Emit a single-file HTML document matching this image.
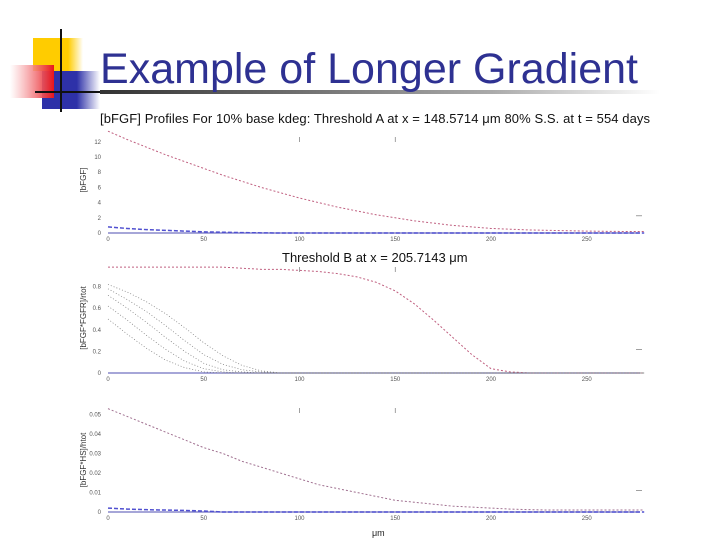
<!DOCTYPE html>
<html><head><meta charset="utf-8"><style>
html,body{margin:0;padding:0;background:#fff;}
svg{display:block;font-family:"Liberation Sans",sans-serif;}
</style></head><body>
<svg width="720" height="540" viewBox="0 0 720 540">
<defs>
<linearGradient id="rg" x1="0" x2="1"><stop offset="0" stop-color="#fff" stop-opacity="0.7"/><stop offset="1" stop-color="#e8141b"/></linearGradient>
<linearGradient id="bg" x1="0" x2="1"><stop offset="0" stop-color="#2e31a8"/><stop offset="0.6" stop-color="#2e31a8"/><stop offset="1" stop-color="#fff"/></linearGradient>
<linearGradient id="yg" x1="0" x2="1"><stop offset="0" stop-color="#ffcc00"/><stop offset="0.7" stop-color="#ffcc00"/><stop offset="1" stop-color="#fff"/></linearGradient>
<linearGradient id="lg" x1="0" x2="1"><stop offset="0" stop-color="#333"/><stop offset="0.7" stop-color="#aaa"/><stop offset="1" stop-color="#fff"/></linearGradient>
</defs>
<g>
<rect x="33" y="38" width="50" height="33" fill="url(#yg)"/>
<rect x="42" y="71" width="58" height="38" fill="url(#bg)"/>
<rect x="10" y="65" width="44" height="33" fill="url(#rg)"/>
<line x1="61" y1="29" x2="61" y2="112" stroke="#111" stroke-width="2"/>
<line x1="35" y1="92" x2="100" y2="92" stroke="#111" stroke-width="2"/>
<rect x="100" y="90" width="560" height="4" fill="url(#lg)"/>
</g>
<text x="100" y="83" font-size="43" textLength="538" fill="#2e3192">Example of Longer Gradient</text>
<text x="100" y="123" font-size="13" textLength="550" fill="#111">[bFGF] Profiles For 10% base kdeg: Threshold A at x = 148.5714 μm  80% S.S. at t = 554 days</text>
<text x="282" y="262" font-size="13" fill="#111">Threshold B at x = 205.7143 μm</text>
<text x="372" y="536" font-size="9" fill="#222">μm</text>
<g id="charts"></g>
</svg>
<script>
const xs = [0,10,20,30,40,50,60,70,80,90,100,110,120,130,140,150,160,170,180,190,200,210,220,230,240,250,260,270,280];
const xTicks = [0,50,100,150,200,250];
const p1Red = [13.4,12.3,11.3,10.3,9.4,8.5,7.6,6.8,6.0,5.3,4.6,4.0,3.4,2.9,2.4,2.0,1.6,1.3,1.0,0.8,0.6,0.5,0.4,0.35,0.3,0.25,0.22,0.2,0.2];
const p1Blue = [0.8,0.6,0.45,0.35,0.25,0.15,0.1,0.05,0.02,0,0,0,0,0,0,0,0,0,0,0,0,0,0,0,0,0,0,0,0];
const p1Ticks = [0,2,4,6,8,10,12];
const p2Red = [0.98,0.98,0.98,0.98,0.98,0.98,0.98,0.97,0.96,0.96,0.95,0.94,0.92,0.89,0.84,0.76,0.64,0.49,0.33,0.17,0.04,0.01,0,0,0,0,0,0,0];
const p2Gray1 = [0.82,0.75,0.66,0.55,0.42,0.28,0.16,0.07,0.02,0,0,0,0,0,0,0,0,0,0,0,0,0,0,0,0,0,0,0,0];
const p2Gray2 = [0.78,0.68,0.57,0.44,0.30,0.17,0.08,0.03,0.01,0,0,0,0,0,0,0,0,0,0,0,0,0,0,0,0,0,0,0,0];
const p2Gray3 = [0.72,0.60,0.47,0.33,0.20,0.09,0.03,0.01,0,0,0,0,0,0,0,0,0,0,0,0,0,0,0,0,0,0,0,0,0];
const p2Gray4 = [0.62,0.49,0.35,0.22,0.11,0.04,0.01,0,0,0,0,0,0,0,0,0,0,0,0,0,0,0,0,0,0,0,0,0,0];
const p2Gray5 = [0.50,0.36,0.23,0.12,0.05,0.01,0,0,0,0,0,0,0,0,0,0,0,0,0,0,0,0,0,0,0,0,0,0,0];
const p2Ticks = [0,0.2,0.4,0.6,0.8];
const p3Red = [0.053,0.049,0.045,0.041,0.037,0.033,0.030,0.026,0.023,0.020,0.017,0.014,0.012,0.010,0.008,0.006,0.005,0.004,0.003,0.0025,0.002,0.0015,0.0012,0.001,0.001,0.001,0.001,0.001,0.001];
const p3Blue = [0.002,0.0015,0.0012,0.001,0.0008,0.0005,0,0,0,0,0,0,0,0,0,0,0,0,0,0,0,0,0,0,0,0,0,0,0];
const p3Ticks = [0,0.01,0.02,0.03,0.04,0.05];

const NS="http://www.w3.org/2000/svg";
const g=document.getElementById('charts');
function X(v){return 108+v*1.915;}
function mk(t,a){const e=document.createElementNS(NS,t);for(const k in a)e.setAttribute(k,a[k]);g.appendChild(e);return e;}
function panel(name,y0,pxPer,ticks,fmt,series,ylabel,ylabelY,top){
  const Y=v=>y0-v*pxPer;
  const ax=mk('line',{x1:X(0),y1:y0,x2:640,y2:y0,stroke:'#7070c0','stroke-width':1.2});
  
  
  xTicks.forEach(t=>{
    const tx=mk('text',{x:X(t),y:y0+8,'font-size':6,'text-anchor':'middle',fill:'#555'});tx.textContent=t;
    
    
    if(t==100||t==150){mk('line',{x1:X(t),y1:top,x2:X(t),y2:top+5,stroke:'#777','stroke-width':0.7});}
  });
  ticks.forEach(t=>{
    const ty=mk('text',{x:101,y:Y(t)+2,'font-size':6,'text-anchor':'end',fill:'#555'});ty.textContent=fmt(t);
    
    
  });
  mk('line',{x1:636,y1:Y(ticks[1])-2,x2:642,y2:Y(ticks[1])-2,stroke:'#777','stroke-width':0.7});
  const yl=mk('text',{x:0,y:0,'font-size':8,'text-anchor':'middle',fill:'#333',transform:`translate(86,${ylabelY}) rotate(-90)`});yl.textContent=ylabel;
  
  
  series.forEach(s=>{
    const pts=xs.map((x,i)=>X(x)+','+Y(s.d[i])).join(' ');
    const p=mk('polyline',{points:pts,fill:'none',stroke:s.c,'stroke-width':s.w||1,'stroke-dasharray':s.da||'2,2'});
    
    
  });
}
panel('panel1',233,7.6,p1Ticks,t=>t,[{d:p1Red,c:'#c06080',n:'red-series'},{d:p1Blue,c:'#5050d0',n:'blue-series',w:1.5,da:'4,2'}],'[bFGF]',180,137);
panel('panel2',373,108,p2Ticks,t=>t,[{d:p2Red,c:'#c06080',n:'red-series'},{d:p2Gray1,c:'#777',n:'gray-series-1',w:0.7,da:'1,2'},{d:p2Gray2,c:'#777',n:'gray-series-2',w:0.7,da:'1,2'},{d:p2Gray3,c:'#777',n:'gray-series-3',w:0.7,da:'1,2'},{d:p2Gray4,c:'#777',n:'gray-series-4',w:0.7,da:'1,2'},{d:p2Gray5,c:'#777',n:'gray-series-5',w:0.7,da:'1,2'}],'[bFGF*FGFR]/rtot',318,267);
panel('panel3',512,1950,p3Ticks,t=>t==0?'0':t.toFixed(2),[{d:p3Red,c:'#a07090',n:'red-series'},{d:p3Blue,c:'#5050d0',n:'blue-series',w:1.5,da:'4,2'}],'[bFGF*HS]/htot',460,408);
</script>
</body></html>
